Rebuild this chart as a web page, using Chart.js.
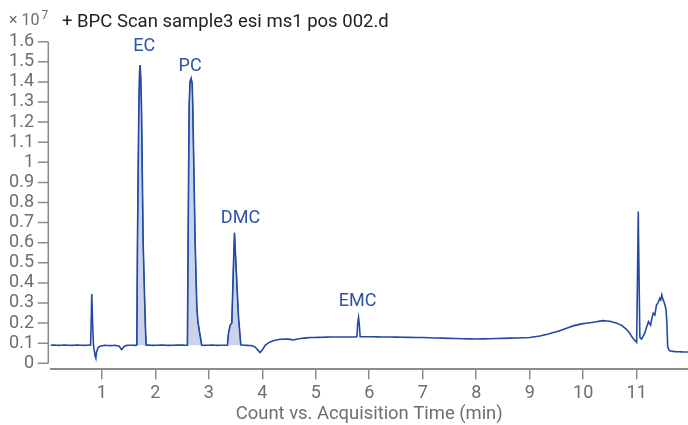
<!DOCTYPE html>
<html>
<head>
<meta charset="utf-8">
<script src="https://cdn.jsdelivr.net/npm/chart.js@4.4.1/dist/chart.umd.min.js"></script>
<style>
  html, body { margin: 0; padding: 0; background: #fff; }
  canvas { display: block; }
</style>
</head>
<body>
<canvas id="chart" width="688" height="425"></canvas>
<script>
// BPC trace, intensity in units of 10^7 counts, time in minutes
var times = [
  0.04, 0.12, 0.20, 0.28, 0.36, 0.44, 0.52, 0.60, 0.68, 0.76, 0.79,
  0.800, 0.812, 0.825, 0.843, 0.860, 0.875, 0.888, 0.900, 0.930, 0.970,
  1.05, 1.15, 1.25, 1.32, 1.35, 1.37, 1.39, 1.42, 1.47, 1.55, 1.62,
  1.654, 1.666, 1.680, 1.692, 1.705, 1.716, 1.728, 1.741, 1.756, 1.772, 1.788, 1.804, 1.816, 1.828,
  1.88, 1.96, 2.05, 2.15, 2.25, 2.35, 2.45, 2.55,
  2.600, 2.613, 2.632, 2.648, 2.670, 2.690, 2.700, 2.722, 2.744, 2.776, 2.795, 2.830, 2.867,
  2.92, 3.00, 3.08, 3.16, 3.24, 3.31,
  3.348, 3.368, 3.400, 3.430, 3.460, 3.480, 3.510, 3.555, 3.598,
  3.65, 3.72, 3.80, 3.86, 3.91, 3.96, 4.00, 4.05, 4.12, 4.20, 4.30, 4.42, 4.52, 4.58, 4.66, 4.78, 4.90, 5.05, 5.20, 5.40, 5.60, 5.74,
  5.770, 5.785, 5.800, 5.815, 5.830,
  5.90, 6.05, 6.25, 6.50, 6.75, 7.00, 7.25, 7.50, 7.75, 8.00, 8.25, 8.50, 8.75, 9.00, 9.19,
  9.35, 9.50, 9.65, 9.81, 9.97, 10.13, 10.25, 10.37, 10.50, 10.63, 10.72, 10.81, 10.87, 10.91, 10.96, 11.00,
  11.015, 11.030, 11.045, 11.060, 11.09, 11.12, 11.15, 11.18, 11.22, 11.26, 11.29, 11.31, 11.34, 11.37, 11.40,
  11.43, 11.45, 11.47, 11.49, 11.51, 11.53, 11.55, 11.565, 11.58, 11.61, 11.66, 11.72, 11.80, 11.88, 11.96
];
var intensity = [
  0.090, 0.091, 0.089, 0.091, 0.090, 0.089, 0.091, 0.090, 0.089, 0.091, 0.090,
  0.200, 0.345, 0.220, 0.090, 0.060, 0.035, 0.025, 0.055, 0.078, 0.086,
  0.089, 0.088, 0.089, 0.086, 0.075, 0.068, 0.075, 0.085, 0.089, 0.090, 0.089,
  0.090, 0.610, 0.980, 1.280, 1.450, 1.484, 1.420, 1.280, 0.950, 0.610, 0.440, 0.280, 0.170, 0.090,
  0.091, 0.089, 0.090, 0.091, 0.089, 0.090, 0.091, 0.090,
  0.090, 0.610, 1.280, 1.400, 1.418, 1.390, 1.280, 0.950, 0.610, 0.280, 0.210, 0.150, 0.090,
  0.089, 0.090, 0.091, 0.089, 0.090, 0.090,
  0.090, 0.150, 0.190, 0.200, 0.480, 0.647, 0.480, 0.230, 0.092,
  0.090, 0.089, 0.088, 0.082, 0.068, 0.053, 0.066, 0.088, 0.103, 0.112, 0.118, 0.121, 0.119, 0.116, 0.121, 0.125, 0.128, 0.129, 0.130, 0.131, 0.131, 0.131,
  0.133, 0.200, 0.227, 0.190, 0.132,
  0.132, 0.132, 0.131, 0.130, 0.129, 0.128, 0.126, 0.124, 0.122, 0.121, 0.122, 0.124, 0.126, 0.128, 0.136,
  0.146, 0.157, 0.170, 0.186, 0.196, 0.202, 0.207, 0.212, 0.209, 0.199, 0.188, 0.169, 0.150, 0.132, 0.115, 0.104,
  0.420, 0.755, 0.420, 0.130, 0.119, 0.135, 0.149, 0.175, 0.207, 0.190, 0.230, 0.249, 0.240, 0.290, 0.300,
  0.323, 0.315, 0.340, 0.318, 0.306, 0.290, 0.265, 0.200, 0.083, 0.063, 0.060, 0.058, 0.057, 0.056, 0.056
];
if (times.length !== intensity.length) console.error('length mismatch', times.length, intensity.length);

// integrated peaks (start / end time, min)
var integStart = [1.654, 2.600, 3.348];
var integEnd = [1.828, 2.867, 3.598];

// peak annotations
var peakNames = ['EC', 'PC', 'DMC', 'EMC'];
var peakTimes = [1.716, 2.670, 3.480, 5.800];

var xTicks = [1, 2, 3, 4, 5, 6, 7, 8, 9, 10, 11];
var yTicks = [0, 0.1, 0.2, 0.3, 0.4, 0.5, 0.6, 0.7, 0.8, 0.9, 1, 1.1, 1.2, 1.3, 1.4, 1.5, 1.6];

var title = '+ BPC Scan sample3 esi ms1 pos 002.d';
var xTitle = 'Count vs. Acquisition Time (min)';

// styling
var lineColor = '#2449a5';
var fillColor = '#c9d3ea';
var labelColor = '#2d53a8';
var axisColor = '#8c8c8c';
var textGrey = '#6e6e6e';
var font = 'Roboto';
// label nudges in px [dx, dy]
var labelNudge = [[4, -19], [-1, -12], [6, -15], [-1, -16]];

var trace = times.map(function (t, i) { return { x: t, y: intensity[i] }; });

// a tiny tension keeps Chart.js off its pixel-column fast path, which distorts narrow peaks
var datasets = [{
  data: trace,
  borderColor: lineColor,
  borderWidth: 1.6,
  pointRadius: 0,
  tension: 0.0001,
  fill: false,
  order: 0
}];
integStart.forEach(function (s, k) {
  var pts = trace.filter(function (p) { return p.x >= s && p.x <= integEnd[k]; });
  datasets.push({
    data: pts,
    borderColor: lineColor,
    borderWidth: 1,
    backgroundColor: fillColor,
    pointRadius: 0,
    tension: 0.0001,
    fill: { value: pts[0].y },
    order: 1
  });
});

var decorations = {
  id: 'decorations',
  afterDraw: function (chart) {
    var ctx = chart.ctx;
    var xs = chart.scales.x, ys = chart.scales.y;
    var area = chart.chartArea;
    ctx.save();
    // y axis line and ticks
    var ax = area.left - 2.2;
    ctx.strokeStyle = axisColor;
    ctx.lineWidth = 1.5;
    ctx.beginPath();
    ctx.moveTo(ax, ys.getPixelForValue(yTicks[yTicks.length - 1]));
    ctx.lineTo(ax, ys.getPixelForValue(0));
    yTicks.forEach(function (v) {
      var py = ys.getPixelForValue(v);
      ctx.moveTo(ax - 10.5, py);
      ctx.lineTo(ax, py);
    });
    ctx.stroke();

    // multiplier and title
    ctx.textBaseline = 'alphabetic';
    ctx.textAlign = 'left';
    ctx.fillStyle = textGrey;
    ctx.font = '16px ' + font;
    ctx.fillText('\u00d7 10', 9, 25);
    var w = ctx.measureText('\u00d7 10').width;
    ctx.font = '12px ' + font;
    ctx.fillText('7', 9 + w + 2, 19);
    ctx.fillStyle = '#222222';
    ctx.font = '18.5px ' + font;
    ctx.fillText(title, 62, 27);

    // peak labels
    ctx.fillStyle = labelColor;
    ctx.textAlign = 'center';
    ctx.textBaseline = 'middle';
    ctx.font = '18px ' + font;
    peakNames.forEach(function (name, k) {
      var best = null;
      trace.forEach(function (p) {
        if (Math.abs(p.x - peakTimes[k]) < 0.03 && (!best || p.y > best.y)) best = p;
      });
      var px = xs.getPixelForValue(peakTimes[k]) + labelNudge[k][0];
      var py = ys.getPixelForValue(best.y) + labelNudge[k][1];
      ctx.fillText(name, px, py);
    });
    ctx.restore();
  }
};

new Chart(document.getElementById('chart'), {
  type: 'line',
  data: { datasets: datasets },
  options: {
    responsive: false,
    animation: false,
    layout: { padding: { top: 41.7, left: 0, right: 0, bottom: 0 } },
    plugins: { legend: { display: false }, tooltip: { enabled: false } },
    scales: {
      x: {
        type: 'linear',
        min: 0.04,
        max: 11.96,
        afterBuildTicks: function (scale) { scale.ticks = xTicks.map(function (v) { return { value: v }; }); },
        afterFit: function (scale) { scale.height = 425 - 369.3; },
        ticks: {
          color: textGrey,
          font: { family: font, size: 18 },
          padding: 3,
          maxRotation: 0,
          autoSkip: false,
          callback: function (v) { return String(v); }
        },
        grid: { display: true, drawOnChartArea: false, drawTicks: true, tickLength: 10, color: axisColor, lineWidth: 1.5 },
        border: { display: true, color: axisColor, width: 2 },
        title: {
          display: true,
          text: xTitle,
          color: textGrey,
          font: { family: font, size: 18.4 },
          padding: { top: 0, bottom: 0 }
        }
      },
      y: {
        type: 'linear',
        min: -0.03,
        max: 1.6,
        afterBuildTicks: function (scale) { scale.ticks = yTicks.map(function (v) { return { value: v }; }); },
        afterFit: function (scale) { scale.width = 50.5; },
        ticks: {
          color: textGrey,
          font: { family: font, size: 18 },
          padding: 16.5,
          autoSkip: false,
          callback: function (v) { return String(v); }
        },
        grid: { display: false, drawTicks: false },
        border: { display: false }
      }
    }
  },
  plugins: [decorations]
});
</script>
</body>
</html>
